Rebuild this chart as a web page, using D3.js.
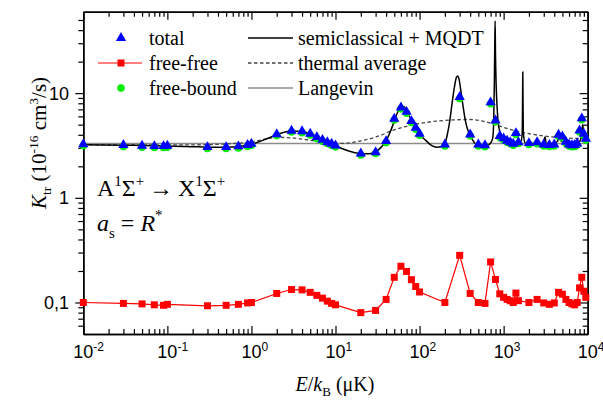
<!DOCTYPE html>
<html><head><meta charset="utf-8">
<script src="https://cdn.jsdelivr.net/npm/d3@7"></script>
<style>body{margin:0;background:#fff}svg{display:block}</style>
</head><body>
<svg id="c" width="603" height="401"></svg>
<script>
// ---------------- data ----------------
const energies = [0.01,0.03,0.05,0.07,0.09,0.1,0.3,0.5,0.7,0.9,1,2,3,4,5,6,7,8,9,10,20,30,40,50,60,70,80,90,100,200,300,400,500,600,700,800,900,1000,1100,1200,1300,1400,1500,2000,2500,3000,3500,4000,4500,5000,5500,6000,6500,7000,7500,8000,8500,9000,9500];
const totalK = [3.25,3.2,3.15,3.12,3.12,3.15,3.05,3.05,3.1,3.2,3.28,4.05,4.38,4.32,4.1,3.8,3.58,3.4,3.28,3.16,2.65,2.73,3.48,5.7,7.3,6.63,5.41,4.67,4.09,3.23,9.18,4.03,3.23,3.18,8.17,5.49,3.89,3.7,3.51,3.4,3.28,4.15,3.4,3.33,3.4,3.23,3.2,3.23,4.0,3.86,3.43,3.23,3.18,3.2,3.3,4.4,5.74,4.09,3.67];
const freeFreeK = [0.1,0.098,0.097,0.095,0.094,0.096,0.093,0.094,0.096,0.099,0.1,0.122,0.133,0.132,0.125,0.117,0.11,0.103,0.098,0.095,0.08,0.084,0.107,0.174,0.222,0.198,0.165,0.142,0.126,0.1,0.282,0.122,0.1,0.098,0.244,0.166,0.121,0.112,0.107,0.104,0.1,0.123,0.104,0.1,0.107,0.099,0.096,0.099,0.125,0.12,0.107,0.1,0.097,0.095,0.1,0.138,0.174,0.128,0.112];
const freeBoundK = [3.15,3.1,3.05,3.03,3.03,3.05,2.96,2.96,3.0,3.1,3.18,3.93,4.25,4.19,3.98,3.68,3.47,3.3,3.18,3.07,2.57,2.65,3.37,5.53,7.08,6.43,5.25,4.53,3.96,3.13,8.9,3.91,3.13,3.08,7.93,5.32,3.77,3.59,3.4,3.3,3.18,4.03,3.3,3.23,3.29,3.13,3.1,3.13,3.88,3.74,3.32,3.13,3.08,3.1,3.2,4.26,5.57,3.96,3.56];

const mqdtE = [0.01,0.03,0.1,0.2,0.3,0.5,0.7,1,1.5,2,3,4,5,6,7,8,10,13,17,20,25,30,35,40,45,50,55,60,65,70,80,90,100,120,140,160,180,200,215,230,245,260,275,285,295,310,330,350,380,400,450,500,550,600,650,700,740,760,775,785,792,800,815,835,860,900,1000,1100,1200,1400,1600,1665,1682,1690,1698,1715,1800,2000,2500,3000,3080,3120,3200,4000,4400,4600,4800,5500,7000,8000,8500,8700,9000,9500,10000];
const mqdtK = [3.22,3.18,3.13,3.08,3.05,3.05,3.1,3.25,3.65,4.02,4.36,4.3,4.1,3.85,3.62,3.42,3.15,2.88,2.7,2.65,2.64,2.75,3.05,3.5,4.3,5.4,6.6,7.3,7.45,6.9,5.45,4.6,4.05,3.5,3.15,3.05,3.08,3.3,4.1,5.6,8.3,11.5,14.2,14.6,13.6,10.5,7.4,5.5,4.3,3.95,3.35,3.15,3.05,3.05,3.15,3.35,3.7,5,12,30,49,24,12,7.5,5.3,4.3,3.75,3.55,3.45,3.38,3.36,4.2,10,15.9,10,4.2,3.36,3.33,3.3,3.3,3.8,3.8,3.3,3.3,3.5,3.95,3.5,3.35,3.3,3.45,4.2,5.0,4.0,3.55,3.45];

const thermalE = [0.01,0.1,0.3,0.6,1,1.5,2,3,4,6,10,15,20,30,50,80,130,250,400,600,830,1200,2000,3000,5000,10000];
const thermalK = [3.2,3.2,3.22,3.3,3.42,3.65,3.78,3.74,3.64,3.46,3.3,3.35,3.5,3.8,4.45,4.95,5.3,5.55,5.6,5.35,4.95,4.5,4.1,3.9,3.75,3.67];

const langevinE = [0.01,10000];
const langevinK = [3.3,3.3];

const xTickExps = [-2,-1,0,1,2,3,4];
const yTickVals = [0.1,1,10];
const yTickLabels = ["0,1","1","10"];

// ---------------- layout ----------------
const L=83.3, R=587.7, T=11.7, B=334;
const svg = d3.select("#c");
const x = d3.scaleLog().domain([0.01,10000]).range([L,R]);
const y = d3.scaleLog().domain([0.05,60]).range([B,T]);
const serif = "'Liberation Serif','Times New Roman',serif";
const sans = "'Liberation Sans',Arial,sans-serif";

svg.append("defs").append("clipPath").attr("id","clip")
  .append("rect").attr("x",L).attr("y",T).attr("width",R-L).attr("height",B-T);

const xMinor=[], yMinor=[];
for(let d=-2; d<4; d++) for(let k=2;k<10;k++) xMinor.push(k*Math.pow(10,d));
for(let d=-2; d<2; d++) for(let k=2;k<10;k++){const v=k*Math.pow(10,d); if(v>0.05 && v<60) yMinor.push(v);}
const xMajor = xTickExps.map(e=>Math.pow(10,e));

function styleAxis(g){
  g.select(".domain").attr("stroke","#000").attr("stroke-width",1.5);
  g.selectAll(".tick line").attr("stroke","#000").attr("stroke-width",1.2);
  g.selectAll(".tick text").remove();
}
svg.append("g").attr("transform",`translate(0,${B})`).call(d3.axisBottom(x).tickValues(xMajor).tickSizeInner(-8).tickSizeOuter(0).tickFormat(()=>"")).call(styleAxis);
svg.append("g").attr("transform",`translate(0,${B})`).call(d3.axisBottom(x).tickValues(xMinor).tickSizeInner(-5).tickSizeOuter(0).tickFormat(()=>"")).call(styleAxis);
svg.append("g").attr("transform",`translate(0,${T})`).call(d3.axisTop(x).tickValues(xMajor).tickSizeInner(-8).tickSizeOuter(0).tickFormat(()=>"")).call(styleAxis);
svg.append("g").attr("transform",`translate(0,${T})`).call(d3.axisTop(x).tickValues(xMinor).tickSizeInner(-5).tickSizeOuter(0).tickFormat(()=>"")).call(styleAxis);
svg.append("g").attr("transform",`translate(${L},0)`).call(d3.axisLeft(y).tickValues(yTickVals).tickSizeInner(8).tickSizeOuter(0).tickFormat(()=>"")).call(styleAxis);
svg.append("g").attr("transform",`translate(${L},0)`).call(d3.axisLeft(y).tickValues(yMinor).tickSizeInner(5).tickSizeOuter(0).tickFormat(()=>"")).call(styleAxis);
svg.append("g").attr("transform",`translate(${R},0)`).call(d3.axisRight(y).tickValues(yTickVals).tickSizeInner(-8).tickSizeOuter(0).tickFormat(()=>"")).call(styleAxis);
svg.append("g").attr("transform",`translate(${R},0)`).call(d3.axisRight(y).tickValues(yMinor).tickSizeInner(-5).tickSizeOuter(0).tickFormat(()=>"")).call(styleAxis);

// tick labels: base "10" centred on the tick, exponent trailing
const xl = svg.append("g").attr("font-family",sans).attr("font-size",18).attr("fill","#000");
xTickExps.forEach(e=>{
  const t = xl.append("text").attr("x",x(Math.pow(10,e))-10).attr("y",358);
  t.append("tspan").text("10");
  t.append("tspan").attr("dy",-7.5).attr("font-size",12).text(String(e));
});
const yl = svg.append("g").attr("font-family",sans).attr("font-size",18).attr("fill","#000");
yTickVals.forEach((v,i)=>{
  yl.append("text").attr("x",69).attr("y",y(v)+6.5).attr("text-anchor","end").text(yTickLabels[i]);
});

// axis titles
const xt = svg.append("text").attr("x",335).attr("y",391).attr("text-anchor","middle")
  .attr("font-family",serif).attr("font-size",20);
xt.append("tspan").attr("font-style","italic").text("E");
xt.append("tspan").text("/");
xt.append("tspan").attr("font-style","italic").text("k");
xt.append("tspan").attr("dy",5).attr("font-size",13).text("B");
xt.append("tspan").attr("dy",-5).text(" (\u03BCK)");

const yt = svg.append("text").attr("transform","translate(46,143) rotate(-90)").attr("text-anchor","middle")
  .attr("font-family",serif).attr("font-size",21);
yt.append("tspan").attr("font-style","italic").text("K");
yt.append("tspan").attr("dy",5).attr("font-size",13.5).text("tr");
yt.append("tspan").attr("dy",-5).text(" (10");
yt.append("tspan").attr("dy",-8).attr("font-size",13.5).text("-16");
yt.append("tspan").attr("dy",8).text(" cm");
yt.append("tspan").attr("dy",-8).attr("font-size",13.5).text("3");
yt.append("tspan").attr("dy",8).text("/s)");

// ---------------- marks ----------------
const plot = svg.append("g").attr("clip-path","url(#clip)");
const lineGen = d3.line().x(d=>x(d[0])).y(d=>y(d[1]));
const mono = d3.line().x(d=>x(d[0])).y(d=>y(d[1])).curve(d3.curveMonotoneX);

plot.append("path").datum(d3.zip(langevinE,langevinK)).attr("d",lineGen)
  .attr("fill","none").attr("stroke","#8c8c8c").attr("stroke-width",1.6);
plot.append("path").datum(d3.zip(thermalE,thermalK)).attr("d",mono)
  .attr("fill","none").attr("stroke","#444").attr("stroke-width",1.3).attr("stroke-dasharray","3.5,2.5");
plot.append("path").datum(d3.zip(mqdtE,mqdtK)).attr("d",mono)
  .attr("fill","none").attr("stroke","#000").attr("stroke-width",1.5);

plot.append("path").datum(d3.zip(energies,freeFreeK)).attr("d",lineGen)
  .attr("fill","none").attr("stroke","#ff0000").attr("stroke-width",1.2);
const sq=7;
svg.append("g").selectAll("rect").data(d3.zip(energies,freeFreeK)).join("rect")
  .attr("x",d=>x(d[0])-sq/2).attr("y",d=>y(d[1])-sq/2).attr("width",sq).attr("height",sq).attr("fill","#ff0000");

svg.append("g").selectAll("circle").data(d3.zip(energies,freeBoundK)).join("circle")
  .attr("cx",d=>x(d[0])).attr("cy",d=>y(d[1])).attr("r",3.8).attr("fill","#00ee00");

const tri = d3.symbol().type(d3.symbolTriangle).size(46);
svg.append("g").selectAll("path").data(d3.zip(energies,totalK)).join("path")
  .attr("transform",d=>`translate(${x(d[0])},${y(d[1])})`).attr("d",tri).attr("fill","#0000ff");

// ---------------- legend ----------------
const lg = svg.append("g").attr("font-family",serif).attr("font-size",20).attr("fill","#000");
const legendLeft = ["total","free-free","free-bound"];
const legendRight = ["semiclassical + MQDT","thermal average","Langevin"];
const rowY = [38,63,88];
lg.append("path").attr("transform",`translate(121,${rowY[0]})`).attr("d",tri).attr("fill","#0000ff");
lg.append("line").attr("x1",98).attr("x2",142).attr("y1",rowY[1]).attr("y2",rowY[1]).attr("stroke","#ff0000").attr("stroke-width",1.2);
lg.append("rect").attr("x",121-sq/2).attr("y",rowY[1]-sq/2).attr("width",sq).attr("height",sq).attr("fill","#ff0000");
lg.append("circle").attr("cx",121).attr("cy",rowY[2]).attr("r",3.8).attr("fill","#00ee00");
legendLeft.forEach((t,i)=>lg.append("text").attr("x",149).attr("y",rowY[i]+7).text(t));
lg.append("line").attr("x1",248).attr("x2",293).attr("y1",rowY[0]).attr("y2",rowY[0]).attr("stroke","#000").attr("stroke-width",1.5);
lg.append("line").attr("x1",248).attr("x2",293).attr("y1",rowY[1]).attr("y2",rowY[1]).attr("stroke","#444").attr("stroke-width",1.3).attr("stroke-dasharray","3.5,2.5");
lg.append("line").attr("x1",248).attr("x2",293).attr("y1",rowY[2]).attr("y2",rowY[2]).attr("stroke","#8c8c8c").attr("stroke-width",1.6);
legendRight.forEach((t,i)=>lg.append("text").attr("x",298).attr("y",rowY[i]+7).text(t));

// ---------------- annotations ----------------
const an = svg.append("g").attr("font-family",serif).attr("font-size",24).attr("fill","#000");
const a1 = an.append("text").attr("x",97).attr("y",196);
a1.append("tspan").text("A");
a1.append("tspan").attr("dy",-10).attr("font-size",15).text("1");
a1.append("tspan").attr("dy",10).text("\u03A3");
a1.append("tspan").attr("dy",-10).attr("font-size",15).text("+");
a1.append("tspan").attr("dy",10).text("\u2009\u2192\u2009X");
a1.append("tspan").attr("dy",-10).attr("font-size",15).text("1");
a1.append("tspan").attr("dy",10).text("\u03A3");
a1.append("tspan").attr("dy",-10).attr("font-size",15).text("+");
const a2 = an.append("text").attr("x",97).attr("y",231);
a2.append("tspan").attr("font-style","italic").text("a");
a2.append("tspan").attr("dy",7).attr("font-size",15).text("s");
a2.append("tspan").attr("dy",-7).text(" = ");
a2.append("tspan").attr("font-style","italic").text("R");
a2.append("tspan").attr("dy",-11).attr("font-size",15).text("*");
</script>
</body></html>
